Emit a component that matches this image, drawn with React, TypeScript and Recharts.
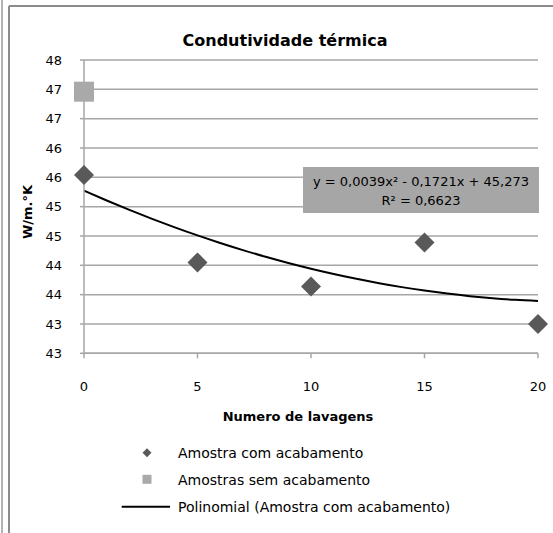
import { ComposedChart, Scatter, Line, XAxis, YAxis, CartesianGrid } from 'recharts'

// lavagens (x) e valores
const WASHES = [0, 5, 10, 15, 20]
const WITH_FINISH = [45.54, 44.05, 43.64, 44.39, 43.0]
const NO_FINISH_X = [0]
const NO_FINISH = [46.96]
const X_TICKS = [0, 5, 10, 15, 20]
const Y_TICKS = [42.5, 43, 43.5, 44, 44.5, 45, 45.5, 46, 46.5, 47, 47.5]
// coeficientes mostrados no rótulo da linha de tendência: c, b, a
const TREND_COEFS = [45.273, -0.1721, 0.0039]
const TREND_X = [0, 1, 2, 3, 4, 5, 6, 7, 8, 9, 10, 11, 12, 13, 14, 15, 16, 17, 18, 19, 20]

const FONT = '"DejaVu Sans", sans-serif'
const GRID = '#a6a6a6'
const DARK = '#595959'
const LIGHT = '#a9a9a9'

const withFinish = WASHES.map((x, i) => ({ x, y: WITH_FINISH[i] }))
const noFinish = NO_FINISH_X.map((x, i) => ({ x, y: NO_FINISH[i] }))
const trend = TREND_X.map(x => ({ x, y: TREND_COEFS[0] + TREND_COEFS[1] * x + TREND_COEFS[2] * x * x }))

const roundLabel = (v: number) => String(Math.floor(v + 0.5 + 1e-9))

const Diamond = (p: any) => {
  const { cx, cy } = p
  const r = 10
  return <polygon points={`${cx},${cy - r} ${cx + r},${cy} ${cx},${cy + r} ${cx - r},${cy}`} fill={DARK} />
}

const Square = (p: any) => {
  const { cx, cy } = p
  return <rect x={cx - 10} y={cy - 10} width={20} height={20} fill={LIGHT} />
}

export default function App() {
  return (
    <div style={{ position: 'absolute', left: 0, top: 0, width: 553, height: 533, background: '#fff', overflow: 'hidden' }}>
      <ComposedChart
        width={553}
        height={533}
        margin={{ top: 60, right: 15, bottom: 150, left: 0 }}
        style={{ fontFamily: FONT }}
      >
        <CartesianGrid horizontal vertical={false} stroke={GRID} strokeWidth={1.5} />
        <XAxis
          type="number"
          dataKey="x"
          domain={[0, 20]}
          ticks={X_TICKS}
          height={29.7}
          stroke={GRID}
          strokeWidth={1.5}
          tickSize={5}
          tickMargin={23}
          tick={{ fill: '#000', fontSize: 13 }}
        />
        <YAxis
          type="number"
          dataKey="y"
          domain={[42.5, 47.5]}
          ticks={Y_TICKS}
          interval={0}
          width={84}
          stroke={GRID}
          strokeWidth={1.5}
          tickSize={4}
          tickMargin={18}
          tickFormatter={roundLabel}
          tick={{ fill: '#000', fontSize: 13 }}
        />
        <Line
          data={trend}
          dataKey="y"
          type="monotone"
          stroke="#000"
          strokeWidth={2}
          dot={false}
          activeDot={false}
          isAnimationActive={false}
        />
        <Scatter data={withFinish} dataKey="y" shape={Diamond} isAnimationActive={false} />
        <Scatter data={noFinish} dataKey="y" shape={Square} isAnimationActive={false} />
      </ComposedChart>

      <div
        style={{
          position: 'absolute',
          left: 303,
          top: 167,
          width: 236,
          height: 46,
          background: '#a6a6a6',
          fontFamily: FONT,
          fontSize: 13,
          lineHeight: '19px',
          paddingTop: 5,
          boxSizing: 'border-box',
          textAlign: 'center',
          color: '#000',
        }}
      >
        <div>y = 0,0039x² - 0,1721x + 45,273</div>
        <div>R² = 0,6623</div>
      </div>

      <svg width={553} height={533} style={{ position: 'absolute', left: 0, top: 0, pointerEvents: 'none' }}>
        <line x1={2} y1={0} x2={2} y2={533} stroke="#9a9a9a" strokeWidth={1.5} />
        <line x1={9} y1={6} x2={9} y2={533} stroke="#8c8c8c" strokeWidth={2} />
        <line x1={9} y1={6} x2={553} y2={6} stroke="#8c8c8c" strokeWidth={2} />

        <text x={285} y={46} textAnchor="middle" fontFamily={FONT} fontSize={16} fontWeight="bold">
          Condutividade térmica
        </text>
        <text
          x={27.5}
          y={212}
          textAnchor="middle"
          dominantBaseline="central"
          transform="rotate(-90 27.5 212)"
          fontFamily={FONT}
          fontSize={13}
          fontWeight="bold"
        >
          W/m.°K
        </text>
        <text x={298} y={421} textAnchor="middle" fontFamily={FONT} fontSize={13} fontWeight="bold">
          Numero de lavagens
        </text>

        <polygon points="147,448.2 151.5,452.7 147,457.2 142.5,452.7" fill={DARK} />
        <text x={178} y={458} fontFamily={FONT} fontSize={14}>Amostra com acabamento</text>
        <rect x={142.5} y={474.8} width={9} height={9} fill={LIGHT} />
        <text x={178} y={485} fontFamily={FONT} fontSize={14}>Amostras sem acabamento</text>
        <line x1={121.7} y1={506.7} x2={170} y2={506.7} stroke="#000" strokeWidth={2} />
        <text x={178} y={512} fontFamily={FONT} fontSize={14}>Polinomial (Amostra com acabamento)</text>
      </svg>
    </div>
  )
}
